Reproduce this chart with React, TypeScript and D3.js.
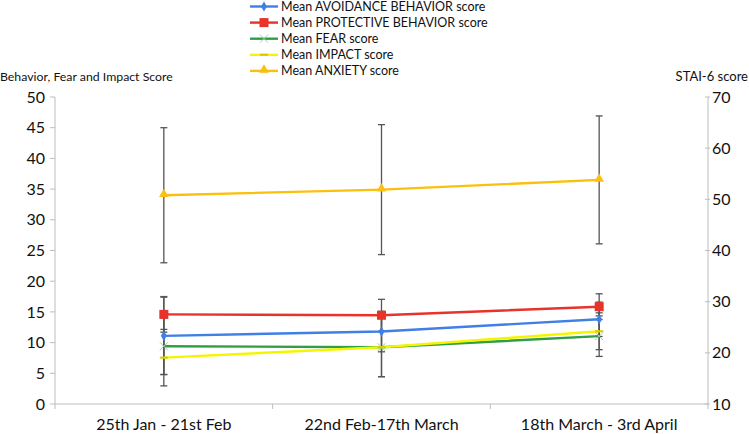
import React from "react";
import * as d3 from "d3";

const categories = ["25th Jan - 21st Feb", "22nd Feb-17th March", "18th March - 3rd April"];
const avoidance = [11.1, 11.8, 13.8];
const avoidanceSD = [6.3, 3.3, 2.8];
const protective = [14.6, 14.45, 15.85];
const protectiveSD = [2.9, 2.6, 2.1];
const fear = [9.4, 9.25, 11.05];
const fearSD = [4.6, 4.8, 3.3];
const impact = [7.55, 9.25, 11.85];
const impactSD = [4.6, 4.8, 3.0];
const anxiety = [50.8, 51.9, 53.8];
const anxietySD = [13.2, 12.7, 12.5];
const leftTicks = [0, 5, 10, 15, 20, 25, 30, 35, 40, 45, 50];
const rightTicks = [10, 20, 30, 40, 50, 60, 70];

const W = 749, H = 434;
const L = 55, R = 708, T = 97, B = 404;
const FONT = "Lato, 'Open Sans', sans-serif";

type Series = { name: string; vals: number[]; sd: number[]; color: string; marker: string; axis: "l" | "r" };
const series: Series[] = [
  { name: "Mean AVOIDANCE BEHAVIOR score", vals: avoidance, sd: avoidanceSD, color: "#3f7fe6", marker: "diamond", axis: "l" },
  { name: "Mean PROTECTIVE BEHAVIOR score", vals: protective, sd: protectiveSD, color: "#e8332b", marker: "square", axis: "l" },
  { name: "Mean FEAR score", vals: fear, sd: fearSD, color: "#2f9e44", marker: "x", axis: "l" },
  { name: "Mean IMPACT score", vals: impact, sd: impactSD, color: "#f5f500", marker: "dash", axis: "l" },
  { name: "Mean ANXIETY score", vals: anxiety, sd: anxietySD, color: "#fbbf0e", marker: "triangle", axis: "r" },
];

function Marker({ type, x, y, color }: { type: string; x: number; y: number; color: string }) {
  if (type === "square") return <rect x={x - 4.5} y={y - 4.5} width={9} height={9} fill={color} />;
  if (type === "diamond") return <path d={d3.symbol(d3.symbolDiamond, 30)()!} transform={`translate(${x},${y})`} fill={color} />;
  if (type === "triangle") return <path d={d3.symbol(d3.symbolTriangle, 40)()!} transform={`translate(${x},${y - 1})`} fill={color} />;
  if (type === "x") return <g stroke="#9ccfa6" strokeWidth={1}><line x1={x - 4} y1={y - 4} x2={x + 4} y2={y + 4} /><line x1={x - 4} y1={y + 4} x2={x + 4} y2={y - 4} /></g>;
  if (type === "dash") return <line x1={x - 4} y1={y} x2={x + 4} y2={y} stroke="#d8c800" strokeWidth={2} />;
  return null;
}

export default function App() {
  const x = d3.scaleBand<string>().domain(categories).range([L, R]);
  const yl = d3.scaleLinear().domain([0, 50]).range([B, T]);
  const yr = d3.scaleLinear().domain([10, 70]).range([B, T]);
  const cx = (c: string) => (x(c) as number) + x.bandwidth() / 2;
  const line = (s: Series) => {
    const ys = s.axis === "l" ? yl : yr;
    return d3.line<number>().x((_, i) => cx(categories[i])).y((v) => ys(v))(s.vals) as string;
  };
  const boundaries = [L, ...categories.map((c) => (x(c) as number) + x.bandwidth())];
  return (
    <svg width={W} height={H} style={{ position: "absolute", left: 0, top: 0, background: "#fff" }}>
      {/* axes */}
      <g stroke="#bdbdbd" strokeWidth={1}>
        <line x1={L} y1={T} x2={L} y2={B} />
        <line x1={R} y1={T} x2={R} y2={B} />
        <line x1={L} y1={B} x2={R} y2={B} />
        {leftTicks.map((t) => <line key={"lt" + t} x1={L - 5} x2={L} y1={yl(t)} y2={yl(t)} />)}
        {rightTicks.map((t) => <line key={"rt" + t} x1={R - 3} x2={R + 2} y1={yr(t)} y2={yr(t)} />)}
        {boundaries.map((b, i) => <line key={"b" + i} x1={b} x2={b} y1={B} y2={B + 5} />)}
      </g>
      <g fontFamily={FONT} fontSize={16} fill="#111">
        {leftTicks.map((t) => <text key={"ll" + t} x={45} y={yl(t)} dy="0.35em" textAnchor="end">{t}</text>)}
        {rightTicks.map((t) => <text key={"rl" + t} x={712} y={yr(t)} dy="0.35em">{t}</text>)}
        {categories.map((c) => <text key={c} x={cx(c)} y={430} textAnchor="middle">{c}</text>)}
      </g>
      <g fontFamily={FONT} fill="#111">
        <text x={0} y={81} fontSize={12.3}>Behavior, Fear and Impact Score</text>
        <text x={748} y={81} fontSize={13} textAnchor="end">STAI-6 score</text>
      </g>
      {/* error bars */}
      <g stroke="#555" strokeWidth={1.3}>
        {series.map((s) => s.vals.map((v, i) => {
          const ys = s.axis === "l" ? yl : yr;
          const px = cx(categories[i]);
          const y1 = ys(v + s.sd[i]), y2 = ys(v - s.sd[i]);
          return (
            <g key={s.name + i}>
              <line x1={px} x2={px} y1={y1} y2={y2} />
              <line x1={px - 3.5} x2={px + 3.5} y1={y1} y2={y1} />
              <line x1={px - 3.5} x2={px + 3.5} y1={y2} y2={y2} />
            </g>
          );
        }))}
      </g>
      {/* lines */}
      {series.map((s) => <path key={s.name} d={line(s)} fill="none" stroke={s.color} strokeWidth={2.4} />)}
      {series.map((s) => s.vals.map((v, i) => (
        <Marker key={s.name + "m" + i} type={s.marker} x={cx(categories[i])} y={(s.axis === "l" ? yl : yr)(v)} color={s.color} />
      )))}
      {/* legend */}
      <g fontFamily={FONT} fontSize={12.5} fill="#111">
        {series.map((s, i) => {
          const ly = 6.5 + i * 16.1;
          return (
            <g key={"lg" + s.name}>
              <line x1={250} x2={278} y1={ly} y2={ly} stroke={s.color} strokeWidth={2.4} />
              <Marker type={s.marker} x={264} y={ly} color={s.color} />
              <text x={281} y={ly} dy="0.35em">{s.name}</text>
            </g>
          );
        })}
      </g>
    </svg>
  );
}
